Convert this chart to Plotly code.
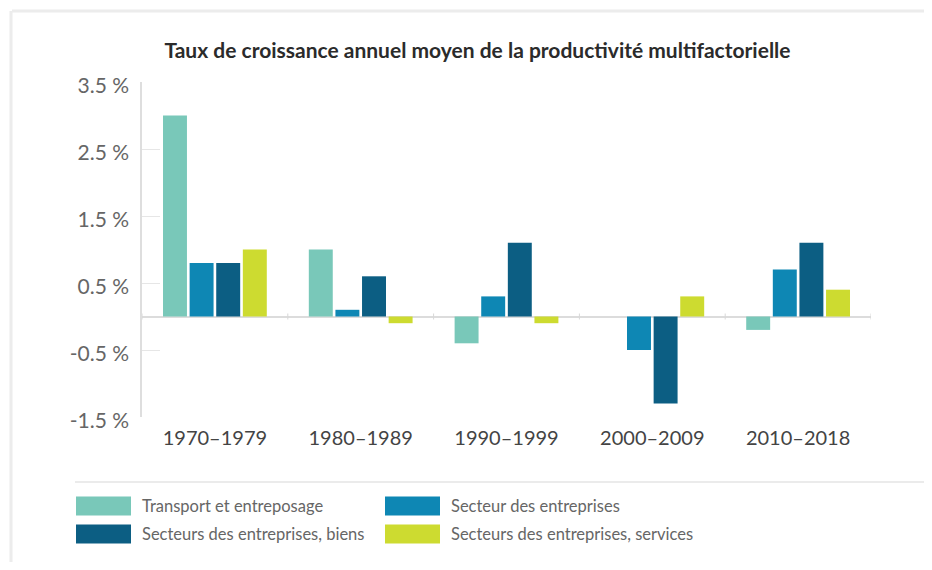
import plotly.graph_objects as go

periodes = ['1970–1979', '1980–1989', '1990–1999', '2000–2009', '2010–2018']
series = ['Transport et entreposage', 'Secteur des entreprises',
          'Secteurs des entreprises, biens', 'Secteurs des entreprises, services']
transport = [3.0, 1.0, -0.4, 0.0, -0.2]
secteur = [0.8, 0.1, 0.3, -0.5, 0.7]
biens = [0.8, 0.6, 1.1, -1.3, 1.1]
services = [1.0, -0.1, -0.1, 0.3, 0.4]
y_ticks = [-1.5, -0.5, 0.5, 1.5, 2.5, 3.5]
y_ticktext = ['-1.5 %', '-0.5 %', '0.5 %', '1.5 %', '2.5 %', '3.5 %']

colors = ['#79C8B9', '#0E87B4', '#0C5E83', '#CDDB30']
values = [transport, secteur, biens, services]

# page body has an 8px margin, so work in screen pixels and shift
OFF = 8
W, H = 932 - 2 * OFF, 570 - 2 * OFF
# plot area in screen pixels
L, R, T, B = 142, 871, 82, 417


def px(x):
    return (x - L) / (R - L)


def py(y):
    return (B - y) / (B - T)


fig = go.Figure()
for name, vals, c in zip(series, values, colors):
    fig.add_trace(go.Bar(x=periodes, y=vals, name=name, marker_color=c,
                         marker_line_width=0, showlegend=False))

fig.update_layout(
    width=W, height=H,
    margin=dict(l=L - OFF, r=W - (R - OFF), t=T - OFF, b=H - (B - OFF)),
    paper_bgcolor='white', plot_bgcolor='white',
    barmode='group', bargap=0.27, bargroupgap=0.1,
    font=dict(family='Lato', color='#555'),
    title=dict(text='Taux de croissance annuel moyen de la productivité multifactorielle',
               x=(477.5 - OFF) / W, xref='container', xanchor='center',
               y=1 - (51 - OFF) / H, yref='container', yanchor='middle',
               font=dict(family='Lato', size=21, weight='bold', color='#2b2b2b')),
)

fig.update_xaxes(showgrid=False, showline=False, ticks='', range=[-0.5, 4.5],
                 tickfont=dict(size=20, color='#444'), ticklabelstandoff=7)
fig.update_yaxes(range=[-1.5, 3.5], tickvals=y_ticks, ticktext=y_ticktext,
                 showgrid=False, showline=True, linecolor='#dedede', linewidth=1.5,
                 ticks='inside', ticklen=18, tickcolor='#e6e6e6', tickwidth=1,
                 tickfont=dict(size=21, color='#666'), ticklabelstandoff=7,
                 ticklabelshift=4,
                 zeroline=True, zerolinecolor='#dcdcdc', zerolinewidth=2)

shapes = []
# small marks on the zero line at category boundaries
for i in range(len(periodes) + 1):
    shapes.append(dict(type='line', xref='x', yref='y', x0=i - 0.5, x1=i - 0.5,
                       ysizemode='pixel', yanchor=0, y0=-3, y1=3,
                       line=dict(color='#d8d8d8', width=1)))

# card border
shapes.append(dict(type='line', xref='paper', yref='paper', x0=px(12), x1=px(940),
                   y0=py(11), y1=py(11), line=dict(color='#ececec', width=3)))
shapes.append(dict(type='line', xref='paper', yref='paper', x0=px(11), x1=px(11),
                   y0=py(11), y1=py(580), line=dict(color='#ececec', width=3)))
# separator above legend
shapes.append(dict(type='line', xref='paper', yref='paper', x0=px(75), x1=px(940),
                   y0=py(482), y1=py(482), line=dict(color='#e4e4e4', width=1.5)))

# legend
leg_pos = [(76, 506), (385, 506), (76, 534), (385, 534)]
annotations = []
for (lx, ly), name, c in zip(leg_pos, series, colors):
    shapes.append(dict(type='rect', xref='paper', yref='paper',
                       x0=px(lx), x1=px(lx + 55), y0=py(ly - 9.5), y1=py(ly + 9.5),
                       fillcolor=c, line=dict(width=0)))
    annotations.append(dict(text=name, xref='paper', yref='paper',
                            x=px(lx + 64), y=py(ly), xanchor='left', yanchor='middle',
                            showarrow=False, font=dict(size=16.5, color='#666')))

fig.update_layout(shapes=shapes, annotations=annotations)
fig.write_html('out.html')
